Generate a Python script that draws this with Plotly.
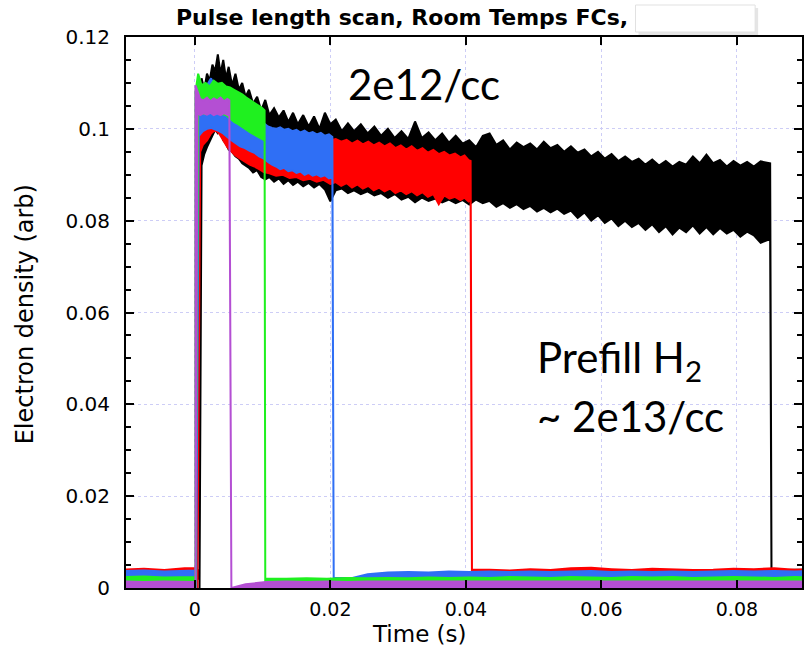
import plotly.graph_objects as go

# ---------------- data ----------------
# time grid for the baseline (before / after each pulse)
base_t = [-0.0105, -0.0075, -0.0045, -0.0015, 0.0015, 0.0045, 0.0075, 0.0105, 0.0135, 0.0165,
          0.0195, 0.0225, 0.0255, 0.0285, 0.0315, 0.0345, 0.0375, 0.0405, 0.0435, 0.0465,
          0.0495, 0.0525, 0.0555, 0.0585, 0.0615, 0.0645, 0.0675, 0.0705, 0.0735, 0.0765,
          0.0795, 0.0825, 0.0855, 0.0885, 0.0915]

# upper edge of the noisy baseline (None = pulse is on there)
black_base_hi = [0.0038, 0.0040, 0.0037, 0.0039] + [None] * 28 + [0.0038, 0.0040, 0.0039]
red_base_hi = [0.0040, 0.0042, 0.0039, 0.0043] + [None] * 14 + [
    0.0040, 0.0038, 0.0041, 0.0039, 0.0043, 0.0044, 0.0041, 0.0039, 0.0042, 0.0040,
    0.0039, 0.0040, 0.0042, 0.0041, 0.0043, 0.0040, 0.0041]
blue_base_hi = [0.0037, 0.0038, 0.0036, 0.0038] + [None] * 7 + [
    0.0019, 0.0030, 0.0034, 0.0035, 0.0034, 0.0036, 0.0035, 0.0036, 0.0035, 0.0036,
    0.0035, 0.0036, 0.0037, 0.0035, 0.0036, 0.0035, 0.0036, 0.0035, 0.0036, 0.0037,
    0.0036, 0.0037, 0.0036, 0.0037]
green_base_hi = [0.0024, 0.0025, 0.0023, 0.0024] + [None] * 4 + [
    0.0020, 0.0021, 0.0020, 0.0022, 0.0021, 0.0022, 0.0021, 0.0023, 0.0022, 0.0023,
    0.0022, 0.0024, 0.0023, 0.0022, 0.0024, 0.0023, 0.0022, 0.0024, 0.0023, 0.0024,
    0.0022, 0.0023, 0.0024, 0.0023, 0.0022, 0.0024, 0.0023]
purple_base_hi = [0.0014, 0.0013, 0.0014, 0.0013] + [None] * 2 + [
    0.0008, 0.0013, 0.0014, 0.0013, 0.0014, 0.0013, 0.0014, 0.0014, 0.0013, 0.0014,
    0.0013, 0.0014, 0.0014, 0.0013, 0.0014, 0.0013, 0.0014, 0.0014, 0.0013, 0.0014,
    0.0013, 0.0014, 0.0013, 0.0014, 0.0014, 0.0013, 0.0014, 0.0013, 0.0014]

# lower edge of each baseline
black_base_lo = 0.0020
red_base_lo = 0.0025
blue_base_lo = 0.0022
green_base_lo = 0.0012
purple_base_lo = 0.0

# level right after each pulse switches off
black_after = 0.0038
red_after = 0.0040
blue_after = 0.0014
green_after = 0.0020
purple_after = 0.0

# pulses: time, upper and lower edge of the noise band
black_t = [0.0007, 0.0010, 0.0014, 0.0018, 0.0022, 0.0026, 0.0030, 0.0034, 0.0038, 0.0042,
           0.0046, 0.0050, 0.0055, 0.0060, 0.0065, 0.0070, 0.0075, 0.0080, 0.0086, 0.0092,
           0.0098, 0.0104, 0.0110, 0.0117, 0.0124, 0.0131, 0.0138, 0.0145, 0.0152, 0.0160,
           0.0168, 0.0176, 0.0184, 0.0192, 0.0200, 0.0208, 0.0217, 0.0226, 0.0235, 0.0245,
           0.0255, 0.0265, 0.0275, 0.0285, 0.0295, 0.0305, 0.0315, 0.0325, 0.0335, 0.0345,
           0.0355, 0.0365, 0.0375, 0.0385, 0.0395, 0.0405, 0.0415, 0.0425, 0.0435, 0.0445,
           0.0455, 0.0465, 0.0475, 0.0485, 0.0495, 0.0505, 0.0515, 0.0525, 0.0535, 0.0545,
           0.0555, 0.0565, 0.0575, 0.0585, 0.0595, 0.0605, 0.0615, 0.0625, 0.0635, 0.0645,
           0.0655, 0.0665, 0.0675, 0.0685, 0.0695, 0.0705, 0.0715, 0.0725, 0.0735, 0.0745,
           0.0755, 0.0765, 0.0775, 0.0785, 0.0795, 0.0805, 0.0815, 0.0825, 0.0835, 0.0849]
black_hi = [0.1040, 0.1110, 0.1085, 0.1120, 0.1105, 0.1140, 0.1125, 0.1162, 0.1120, 0.1150,
            0.1110, 0.1135, 0.1095, 0.1120, 0.1085, 0.1100, 0.1070, 0.1085, 0.1055, 0.1070,
            0.1040, 0.1063, 0.1030, 0.1045, 0.1025, 0.1040, 0.1015, 0.1035, 0.1010, 0.1030,
            0.1005, 0.1027, 0.1000, 0.1035, 0.1010, 0.1020, 0.0995, 0.1012, 0.0995, 0.1010,
            0.0990, 0.1005, 0.0985, 0.1000, 0.0980, 0.0995, 0.0978, 0.1016, 0.0980, 0.0992,
            0.0975, 0.0990, 0.0970, 0.0985, 0.0968, 0.0975, 0.0960, 0.0985, 0.0990, 0.0965,
            0.0975, 0.0955, 0.0970, 0.0960, 0.0968, 0.0955, 0.0972, 0.0958, 0.0965, 0.0950,
            0.0962, 0.0948, 0.0955, 0.0940, 0.0950, 0.0935, 0.0945, 0.0930, 0.0940, 0.0928,
            0.0935, 0.0922, 0.0933, 0.0920, 0.0930, 0.0918, 0.0928, 0.0922, 0.0940, 0.0925,
            0.0944, 0.0925, 0.0932, 0.0918, 0.0930, 0.0920, 0.0928, 0.0918, 0.0929, 0.0925]
black_lo = [0.0000, 0.0920, 0.0945, 0.0960, 0.0975, 0.0985, 0.0998, 0.0990, 0.0995, 0.0975,
            0.0968, 0.0955, 0.0950, 0.0940, 0.0935, 0.0925, 0.0920, 0.0915, 0.0905, 0.0910,
            0.0895, 0.0890, 0.0895, 0.0885, 0.0892, 0.0880, 0.0888, 0.0878, 0.0885, 0.0875,
            0.0882, 0.0872, 0.0880, 0.0868, 0.0842, 0.0866, 0.0870, 0.0860, 0.0866, 0.0858,
            0.0864, 0.0855, 0.0860, 0.0850, 0.0858, 0.0846, 0.0852, 0.0840, 0.0850, 0.0843,
            0.0848, 0.0840, 0.0846, 0.0838, 0.0845, 0.0835, 0.0846, 0.0838, 0.0843, 0.0830,
            0.0838, 0.0828, 0.0836, 0.0825, 0.0832, 0.0820, 0.0828, 0.0818, 0.0826, 0.0815,
            0.0822, 0.0806, 0.0818, 0.0800, 0.0812, 0.0795, 0.0805, 0.0788, 0.0800, 0.0786,
            0.0795, 0.0780, 0.0792, 0.0775, 0.0788, 0.0770, 0.0785, 0.0775, 0.0790, 0.0772,
            0.0786, 0.0770, 0.0784, 0.0772, 0.0780, 0.0765, 0.0776, 0.0768, 0.0752, 0.0760]

red_t = [0.0004, 0.0008, 0.0012, 0.0018, 0.0024, 0.0030, 0.0036, 0.0042, 0.0048, 0.0054,
         0.0060, 0.0067, 0.0074, 0.0081, 0.0088, 0.0095, 0.0102, 0.0110, 0.0120, 0.0130,
         0.0140, 0.0150, 0.0160, 0.0170, 0.0180, 0.0190, 0.0200, 0.0208, 0.0216, 0.0224,
         0.0232, 0.0240, 0.0248, 0.0256, 0.0264, 0.0272, 0.0280, 0.0288, 0.0296, 0.0304,
         0.0312, 0.0320, 0.0328, 0.0336, 0.0344, 0.0352, 0.0360, 0.0368, 0.0376, 0.0384,
         0.0392, 0.0398, 0.0404, 0.0407]
red_hi = [0.1080, 0.1100, 0.1075, 0.1090, 0.1080, 0.1070, 0.1075, 0.1060, 0.1055, 0.1045,
          0.1040, 0.1030, 0.1025, 0.1015, 0.1010, 0.1000, 0.0995, 0.0990, 0.0988, 0.0985,
          0.0983, 0.0985, 0.0980, 0.0982, 0.0978, 0.0980, 0.0975, 0.0978, 0.0972, 0.0976,
          0.0968, 0.0974, 0.0966, 0.0972, 0.0964, 0.0970, 0.0962, 0.0968, 0.0958, 0.0964,
          0.0955, 0.0962, 0.0952, 0.0958, 0.0948, 0.0954, 0.0945, 0.0950, 0.0942, 0.0946,
          0.0938, 0.0942, 0.0932, 0.0930]
red_lo = [0.0000, 0.0950, 0.0965, 0.0975, 0.0990, 0.0998, 0.0990, 0.0975, 0.0960, 0.0950,
          0.0942, 0.0935, 0.0928, 0.0922, 0.0918, 0.0912, 0.0906, 0.0903, 0.0898, 0.0900,
          0.0893, 0.0895, 0.0888, 0.0891, 0.0885, 0.0889, 0.0880, 0.0884, 0.0876, 0.0882,
          0.0872, 0.0879, 0.0870, 0.0876, 0.0866, 0.0872, 0.0864, 0.0870, 0.0860, 0.0866,
          0.0858, 0.0864, 0.0855, 0.0862, 0.0852, 0.0858, 0.0836, 0.0855, 0.0848, 0.0852,
          0.0845, 0.0850, 0.0842, 0.0845]

blue_t = [0.0002, 0.0006, 0.0012, 0.0018, 0.0024, 0.0030, 0.0036, 0.0042, 0.0048, 0.0054,
          0.0060, 0.0067, 0.0074, 0.0081, 0.0088, 0.0095, 0.0102, 0.0108, 0.0114, 0.0120,
          0.0126, 0.0132, 0.0138, 0.0144, 0.0150, 0.0156, 0.0162, 0.0168, 0.0174, 0.0180,
          0.0186, 0.0192, 0.0198, 0.0203]
blue_hi = [0.1080, 0.1075, 0.1085, 0.1095, 0.1110, 0.1090, 0.1085, 0.1075, 0.1070, 0.1060,
           0.1055, 0.1045, 0.1040, 0.1032, 0.1025, 0.1020, 0.1012, 0.1005, 0.1002, 0.1000,
           0.1003, 0.0998, 0.1000, 0.0995, 0.0998, 0.0992, 0.0996, 0.0990, 0.0993, 0.0988,
           0.0991, 0.0985, 0.0988, 0.0982]
blue_lo = [0.0000, 0.0985, 0.0995, 0.1000, 0.1002, 0.0998, 0.0995, 0.0990, 0.0982, 0.0975,
           0.0968, 0.0962, 0.0958, 0.0952, 0.0948, 0.0940, 0.0935, 0.0928, 0.0922, 0.0918,
           0.0912, 0.0915, 0.0908, 0.0910, 0.0904, 0.0907, 0.0900, 0.0904, 0.0898, 0.0901,
           0.0896, 0.0899, 0.0892, 0.0895]

green_t = [0.0001, 0.0005, 0.0010, 0.0016, 0.0022, 0.0028, 0.0034, 0.0040, 0.0046, 0.0052,
           0.0058, 0.0064, 0.0070, 0.0076, 0.0082, 0.0088, 0.0094, 0.0099, 0.0103]
green_hi = [0.1080, 0.1120, 0.1095, 0.1100, 0.1092, 0.1105, 0.1098, 0.1100, 0.1092, 0.1090,
            0.1085, 0.1080, 0.1075, 0.1068, 0.1062, 0.1058, 0.1052, 0.1046, 0.1040]
green_lo = [0.0000, 0.1030, 0.1035, 0.1032, 0.1036, 0.1033, 0.1035, 0.1032, 0.1030, 0.1022,
            0.1015, 0.1010, 0.1005, 0.0998, 0.0992, 0.0988, 0.0982, 0.0978, 0.0975]

purple_t = [0.0001, 0.0004, 0.0008, 0.0013, 0.0018, 0.0023, 0.0028, 0.0033, 0.0038, 0.0043,
            0.0048, 0.0051]
purple_hi = [0.1095, 0.1080, 0.1065, 0.1062, 0.1068, 0.1060, 0.1066, 0.1062, 0.1068, 0.1060,
             0.1065, 0.1062]
purple_lo = [0.0000, 0.1035, 0.1030, 0.1034, 0.1031, 0.1035, 0.1030, 0.1033, 0.1030, 0.1034,
             0.1030, 0.1028]

x_tickvals = [0, 0.02, 0.04, 0.06, 0.08]
x_ticktext = ["0", "0.02", "0.04", "0.06", "0.08"]
y_tickvals = [0, 0.02, 0.04, 0.06, 0.08, 0.1, 0.12]
y_ticktext = ["0", "0.02", "0.04", "0.06", "0.08", "0.1", "0.12"]

# ---------------- build ribbons ----------------
def ribbon(p_t, p_hi, p_lo, base_hi, base_lo, after, drop):
    pre = [(t, v) for t, v in zip(base_t, base_hi) if v is not None and t < p_t[0]]
    t_off = p_t[-1] + drop
    post = [(t, v) for t, v in zip(base_t, base_hi) if v is not None and t > t_off]
    ux = [t for t, _ in pre] + [p_t[0]] + list(p_t) + [t_off] + [t for t, _ in post]
    uy = [v for _, v in pre] + [pre[-1][1]] + list(p_hi) + [after] + [v for _, v in post]
    ly = [base_lo] * len(pre) + [base_lo] + list(p_lo) + [base_lo] + [base_lo] * len(post)
    return ux + ux[::-1], uy + ly[::-1]

series = [
    ("black", "#000000", black_t, black_hi, black_lo, black_base_hi, black_base_lo, black_after, 0.0002),
    ("red", "#ff0000", red_t, red_hi, red_lo, red_base_hi, red_base_lo, red_after, 0.0002),
    ("blue", "#2f6ff5", blue_t, blue_hi, blue_lo, blue_base_hi, blue_base_lo, blue_after, 0.0002),
    ("green", "#1ff01f", green_t, green_hi, green_lo, green_base_hi, green_base_lo, green_after, 0.0001),
    ("purple", "#b44fd3", purple_t, purple_hi, purple_lo, purple_base_hi, purple_base_lo, purple_after, 0.0003),
]

fig = go.Figure()
for name, col, pt, phi, plo, bhi, blo, aft, drop in series:
    xs, ys = ribbon(pt, phi, plo, bhi, blo, aft, drop)
    fig.add_trace(go.Scatter(x=xs, y=ys, mode="lines", fill="toself", fillcolor=col,
                             line=dict(color=col, width=2), name=name,
                             hoverinfo="skip", showlegend=False))

grid_col = "rgb(205,205,246)"
tick_font = dict(family="DejaVu Sans", size=20, color="black")

fig.update_xaxes(range=[-0.01015, 0.0896], tickvals=x_tickvals, ticktext=x_ticktext,
                 showline=True, linecolor="black", linewidth=2, mirror="ticks",
                 ticks="inside", ticklen=8, tickwidth=2, tickcolor="black",
                 showgrid=True, gridcolor=grid_col, griddash="dot", gridwidth=1,
                 zeroline=False, tickfont=dict(family="DejaVu Sans", size=19, color="black"),
                 ticklabelstandoff=3)
fig.update_yaxes(range=[0, 0.12], tickvals=y_tickvals, ticktext=y_ticktext,
                 showline=True, linecolor="black", linewidth=2, mirror="ticks",
                 ticks="inside", ticklen=8, tickwidth=2, tickcolor="black",
                 minor=dict(dtick=0.005, ticks="inside", ticklen=5, tickwidth=1.5,
                            tickcolor="black", showgrid=False),
                 showgrid=True, gridcolor=grid_col, griddash="dot", gridwidth=1,
                 zeroline=False, tickfont=tick_font, ticklabelstandoff=10)

L, R, T, B = 126, 1, 37, 60
W, H = 805, 648
pw, ph = W - L - R, H - T - B

def px(x):
    return (x - L) / pw

def py(y):
    return (H - B - y) / ph

annos = [
    dict(text="<b>Pulse length scan, Room Temps FCs,</b>", x=px(403), y=py(17),
         font=dict(family="DejaVu Sans", size=22, color="black")),
    dict(text="Time (s)", x=px(420), y=py(634), borderpad=0,
         font=dict(family="DejaVu Sans", size=23, color="black")),
    dict(text="Electron density (arb)", x=px(25), y=py(314), textangle=-90,
         font=dict(family="DejaVu Sans", size=24, color="black")),
    dict(text="2e12/cc", x=px(347), y=py(84), xanchor="left",
         font=dict(family="Lato", size=42, color="black")),
    dict(text="Prefill H<sub>2</sub>", x=px(536), y=py(360), xanchor="left",
         font=dict(family="Lato", size=42, color="black")),
    dict(text="~ 2e13/cc", x=px(536), y=py(416), xanchor="left",
         font=dict(family="Lato", size=42, color="black")),
]
for a in annos:
    a.setdefault("xanchor", "center")
    fig.add_annotation(xref="paper", yref="paper", yanchor="middle", showarrow=False, **a)

# white patch covering the end of the title
fig.add_shape(type="rect", xref="paper", yref="paper", x0=px(640), x1=px(760), y0=py(35), y1=py(8),
              fillcolor="rgba(0,0,0,0.10)", line=dict(width=0), layer="above")
fig.add_shape(type="rect", xref="paper", yref="paper", x0=px(637), x1=px(757), y0=py(32), y1=py(5),
              fillcolor="white", line=dict(color="rgb(225,225,225)", width=1), layer="above")

fig.update_layout(width=W, height=H, margin=dict(l=L, r=R, t=T, b=B),
                  plot_bgcolor="white", paper_bgcolor="white", showlegend=False)

fig.write_html("out.html")
